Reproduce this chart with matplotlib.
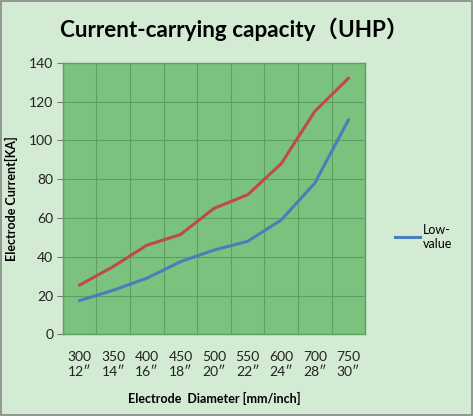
import numpy as np
import matplotlib
matplotlib.use('Agg')
import matplotlib.pyplot as plt

# values
diam_mm = ['300', '350', '400', '450', '500', '550', '600', '700', '750']
diam_in = ['12″', '14″', '16″', '18″', '20″', '22″', '24″', '28″', '30″']
high_value = [25.5, 35, 46, 51.5, 65, 72, 88, 115, 132]
low_value = [17.5, 22.8, 29, 37.5, 43.5, 48, 59, 78, 110.5]

bg = '#d3ebd3'
plot_bg = '#7bc27e'
grid_col = '#5e9e62'

plt.rcParams['font.family'] = ['Lato', 'DejaVu Sans']

fig = plt.figure(figsize=(4.73, 4.16), dpi=100, facecolor=bg)
ax = fig.add_axes([0.133, 0.196, 0.639, 0.653])
ax.set_facecolor(plot_bg)

x = np.arange(len(diam_mm))
ax.plot(x, high_value, color='#be4b48', lw=2.2)
ax.plot(x, low_value, color='#4a7ebb', lw=2.2, label='Low-\nvalue')

ax.set_xlim(-0.5, len(diam_mm) - 0.5)
ax.set_ylim(0, 140)
ax.set_yticks(range(0, 141, 20))
ax.set_xticks(x)
ax.set_xticklabels([a + '\n' + b for a, b in zip(diam_mm, diam_in)],
                   fontsize=10, color='#222222', linespacing=1.3)
ax.tick_params(axis='x', length=0, pad=12)
ax.tick_params(axis='y', length=4, color='#777777', labelsize=10,
               labelcolor='#222222', pad=3)

# grid: vertical at category boundaries, horizontal at each tick
for b in np.arange(-0.5, len(diam_mm), 1):
    ax.axvline(b, color=grid_col, lw=0.8, zorder=0)
for v in range(20, 140, 20):
    ax.axhline(v, color=grid_col, lw=0.8, zorder=0)
for s in ax.spines.values():
    s.set_color(grid_col)
    s.set_linewidth(1)

ax.set_xlabel('Electrode  Diameter [mm/inch]', fontsize=9, fontweight='bold',
              labelpad=10)
ax.set_ylabel('Electrode Current[KA]', fontsize=9, fontweight='bold',
              labelpad=8)

fig.text(0.495, 0.93, 'Current-carrying capacity（UHP）', ha='center',
         va='center', fontsize=16.2, fontweight='bold',
         family=['Lato', 'Noto Sans CJK SC', 'DejaVu Sans'])

leg = ax.legend(loc='center left', bbox_to_anchor=(1.06, 0.36),
                frameon=False, fontsize=9, handlelength=2.0,
                handletextpad=0.3)

fig.patches.append(plt.Rectangle((0.003, 0.003), 0.994, 0.994,
                                 transform=fig.transFigure, fill=False,
                                 edgecolor='#888888', lw=1.2))

fig.savefig('out.png', dpi=100, facecolor=bg)
